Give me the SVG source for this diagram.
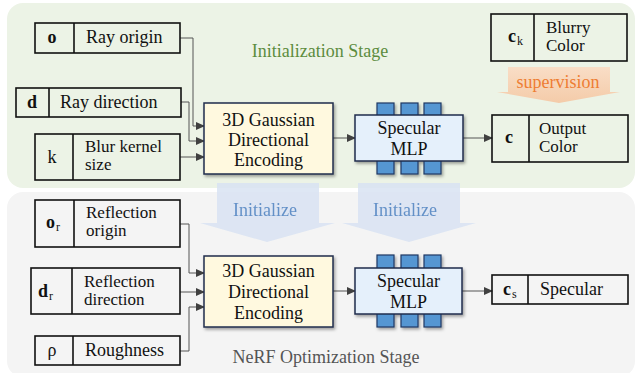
<svg xmlns="http://www.w3.org/2000/svg" width="637" height="373" viewBox="0 0 637 373">
<style>
text{font-family:"Liberation Serif","Times New Roman","DejaVu Serif",serif;font-size:18px;fill:#111}
.box{fill:none;stroke:#111;stroke-width:1.6}
.enc{fill:#fff9df;stroke:#1f2d4d;stroke-width:1.5}
.mlp{fill:#e5f0fb;stroke:#1f2d4d;stroke-width:1.5}
.bump{fill:#5596d2;stroke:#1f3864;stroke-width:1.2}
.con{fill:none;stroke:#555;stroke-width:1}
.b{font-weight:bold}
.sub{font-size:12px}
.two{font-size:17px}
.mid{text-anchor:middle}
</style>
<defs>
<marker id="ah" markerWidth="9" markerHeight="8" refX="8" refY="4" orient="auto" markerUnits="userSpaceOnUse">
<path d="M0,0 L9,4 L0,8 Z" fill="#404040"/>
</marker>
<filter id="sh" x="-10%" y="-10%" width="130%" height="140%">
<feDropShadow dx="1.5" dy="2" stdDeviation="1.5" flood-color="#000" flood-opacity="0.35"/>
</filter>
<linearGradient id="og" x1="0" y1="0" x2="0" y2="1">
<stop offset="0" stop-color="#f9ddc6"/>
<stop offset="1" stop-color="#f4cba9"/>
</linearGradient>
</defs>

<!-- panels -->
<rect x="7" y="3" width="628" height="185" rx="16" fill="#ecf3e6"/>
<rect x="7" y="192" width="628" height="185" rx="16" fill="#f4f4f4"/>
<text x="320" y="57" class="mid" style="fill:#5c8c3e">Initialization Stage</text>
<text x="326" y="363" class="mid" style="fill:#555">NeRF Optimization Stage</text>

<!-- initialize arrows -->
<g id="init1" opacity="0.85">
<path d="M217,183 H319 V223 H335 L267,242 L200,223 H217 Z" fill="#d9e3f3"/>
<text x="265" y="216" class="mid" style="fill:#4a7fc0">Initialize</text>
</g>
<g id="init2" opacity="0.85">
<path d="M358,183 H460 V223 H476 L409,242 L342,223 H358 Z" fill="#d9e3f3"/>
<text x="405" y="216" class="mid" style="fill:#4a7fc0">Initialize</text>
</g>
<g id="supervision">
<path d="M508,67 H610 V92 H620 L559,103 L497,92 H508 Z" fill="url(#og)"/>
<text x="558" y="88" class="mid" style="fill:#ee7d33">supervision</text>
</g>

<!-- connectors -->
<g id="connectors">
<path class="con" d="M180,38 H193 V126 H204" marker-end="url(#ah)"/>
<path class="con" d="M181,102 H189 V141 H204" marker-end="url(#ah)"/>
<path class="con" d="M180,157 H204" marker-end="url(#ah)"/>
<path class="con" d="M333,138 H355" marker-end="url(#ah)"/>
<path class="con" d="M463,138 H492" marker-end="url(#ah)"/>
<path class="con" d="M180,224 H189 V273 H204" marker-end="url(#ah)"/>
<path class="con" d="M180,292 H204" marker-end="url(#ah)"/>
<path class="con" d="M180,351 H189 V307 H204" marker-end="url(#ah)"/>
<path class="con" d="M333,291 H355" marker-end="url(#ah)"/>
<path class="con" d="M462,291 H492" marker-end="url(#ah)"/>
</g>

<!-- top inputs -->
<g id="o">
<rect class="box" x="35" y="23" width="145" height="30"/>
<line class="box" x1="74" y1="23" x2="74" y2="53"/>
<text x="52" y="43" class="mid b">o</text>
<text x="86" y="43">Ray origin</text>
</g>
<g id="d">
<rect class="box" x="16" y="88" width="165" height="29"/>
<line class="box" x1="49" y1="88" x2="49" y2="117"/>
<text x="32" y="108" class="mid b">d</text>
<text x="60" y="108">Ray direction</text>
</g>
<g id="k">
<rect class="box" x="35" y="134" width="145" height="46"/>
<line class="box" x1="73" y1="134" x2="73" y2="180"/>
<text x="52" y="163" class="mid">k</text>
<text x="85" y="152" class="two">Blur kernel</text>
<text x="85" y="170" class="two">size</text>
</g>

<!-- top encoding -->
<g id="enc1">
<rect class="enc" x="204" y="103" width="129" height="71" filter="url(#sh)"/>
<text x="268.5" y="126" class="mid">3D Gaussian</text>
<text x="268.5" y="146" class="mid">Directional</text>
<text x="268.5" y="166" class="mid">Encoding</text>
</g>
<g id="mlp1">
<g filter="url(#sh)">
<rect class="bump" x="377" y="103" width="17" height="71"/>
<rect class="bump" x="401" y="103" width="17" height="71"/>
<rect class="bump" x="424" y="103" width="17" height="71"/>
<rect class="mlp" x="355" y="115" width="108" height="46"/>
</g>
<text x="409" y="134" class="mid">Specular</text>
<text x="409" y="155" class="mid">MLP</text>
</g>
<g id="ck">
<rect class="box" x="491" y="14" width="136" height="47"/>
<line class="box" x1="534" y1="14" x2="534" y2="61"/>
<text x="508" y="42" class="b">c</text><text x="517" y="45" class="sub">k</text>
<text x="546" y="33" class="two">Blurry</text>
<text x="546" y="51" class="two">Color</text>
</g>
<g id="c">
<rect class="box" x="492" y="115" width="136" height="47"/>
<line class="box" x1="529" y1="115" x2="529" y2="162"/>
<text x="509" y="143" class="mid b">c</text>
<text x="539" y="134" class="two">Output</text>
<text x="539" y="152" class="two">Color</text>
</g>

<!-- bottom inputs -->
<g id="or">
<rect class="box" x="35" y="200" width="145" height="47"/>
<line class="box" x1="74" y1="200" x2="74" y2="247"/>
<text x="46" y="228" class="b">o</text><text x="56" y="231" class="sub">r</text>
<text x="86" y="218" class="two">Reflection</text>
<text x="86" y="236" class="two">origin</text>
</g>
<g id="dr">
<rect class="box" x="31" y="268" width="149" height="46"/>
<line class="box" x1="72" y1="268" x2="72" y2="314"/>
<text x="38" y="297" class="b">d</text><text x="49" y="300" class="sub">r</text>
<text x="84" y="287" class="two">Reflection</text>
<text x="84" y="305" class="two">direction</text>
</g>
<g id="rho">
<rect class="box" x="35" y="336" width="145" height="29"/>
<line class="box" x1="73" y1="336" x2="73" y2="365"/>
<text x="52" y="356" class="mid">ρ</text>
<text x="85" y="356">Roughness</text>
</g>

<!-- bottom encoding -->
<g id="enc2">
<rect class="enc" x="204" y="256" width="129" height="71" filter="url(#sh)"/>
<text x="268.5" y="277" class="mid">3D Gaussian</text>
<text x="268.5" y="298" class="mid">Directional</text>
<text x="268.5" y="319" class="mid">Encoding</text>
</g>
<g id="mlp2">
<g filter="url(#sh)">
<rect class="bump" x="377" y="255" width="17" height="72"/>
<rect class="bump" x="401" y="255" width="17" height="72"/>
<rect class="bump" x="424" y="255" width="17" height="72"/>
<rect class="mlp" x="355" y="268" width="107" height="46"/>
</g>
<text x="408.5" y="287" class="mid">Specular</text>
<text x="408.5" y="308" class="mid">MLP</text>
</g>
<g id="cs">
<rect class="box" x="492" y="275" width="136" height="29"/>
<line class="box" x1="528" y1="275" x2="528" y2="304"/>
<text x="503" y="295" class="b">c</text><text x="512" y="298" class="sub">s</text>
<text x="540" y="295">Specular</text>
</g>
</svg>
